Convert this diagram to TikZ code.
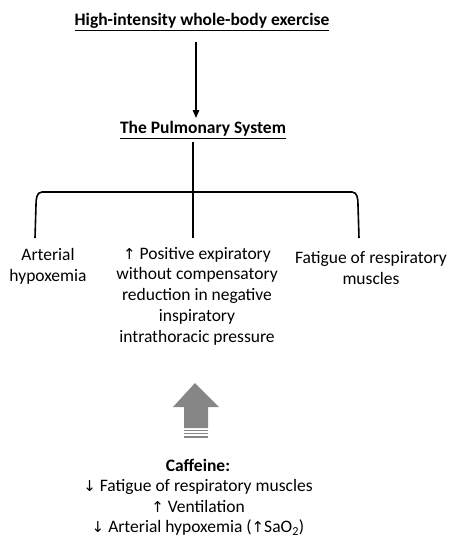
\documentclass[tikz,border=0pt]{standalone}
\usepackage{fontspec}
\setmainfont{Carlito}
\newfontfamily\arrowfont{DejaVu Sans}
\usetikzlibrary{arrows.meta}
\tikzset{
  txt/.style={align=center, font=\fontsize{17.5}{20.7}\selectfont, inner sep=0pt},
  hdr/.style={font=\fontsize{17.5}{20.7}\selectfont\bfseries, inner sep=0pt},
  line/.style={line width=1.6pt, black},
  blockarrow/.style={fill=gray!95!white, draw=none}
}
\newcommand{\ua}{{\arrowfont\fontsize{15}{15}\selectfont ↑}}
\newcommand{\da}{{\arrowfont\fontsize{15}{15}\selectfont ↓}}
\begin{document}
\begin{tikzpicture}[x=1pt,y=1pt]
\useasboundingbox (0,0) rectangle (456,-550);
\node[hdr] (top) at (202,-22) {\underline{High-intensity whole-body exercise}};
\node[hdr] (pulm) at (203,-130) {\underline{The Pulmonary System}};
\coordinate (a1) at (196,-42);
\coordinate (a2) at (196,-118);
\draw[line width=1.4pt, -{Triangle[length=8pt,width=6.5pt]}] (a1) -- (a2);
\coordinate (c1) at (193,-142);
\coordinate (c2) at (193,-238);
\draw[line] (c1) -- (c2);
\coordinate (lb) at (35,-238);
\coordinate (rb) at (359,-238);
\draw[line] (lb) -- (36,-205) to[out=90,in=180] (42,-192) -- (352,-192) to[out=0,in=90] (358,-205) -- (rb);
\node[txt] (left) at (48,-266) {Arterial\\hypoxemia};
\node[txt] (mid) at (197,-296) {\ua{} Positive expiratory\\without compensatory\\reduction in negative\\inspiratory\\intrathoracic pressure};
\node[txt] (right) at (371,-268) {Fatigue of respiratory\\muscles};
% block arrow
\fill[blockarrow] (195,-383) -- (219,-407) -- (208,-407) -- (208,-428) -- (184,-428) -- (184,-407) -- (173,-407) -- cycle;
\fill[blockarrow] (184,-429.5) rectangle (208,-431);
\fill[blockarrow] (184,-432.8) rectangle (208,-434.3);
\fill[blockarrow] (184,-436.1) rectangle (208,-437.6);
\node[hdr] (caf) at (198,-465) {Caffeine:};
\node[txt, anchor=north] (cafl) at (198,-479) {\da{} Fatigue of respiratory muscles\\\ua{} Ventilation\\\da{} Arterial hypoxemia (\ua{}SaO\textsubscript{2})};
\end{tikzpicture}
\end{document}
